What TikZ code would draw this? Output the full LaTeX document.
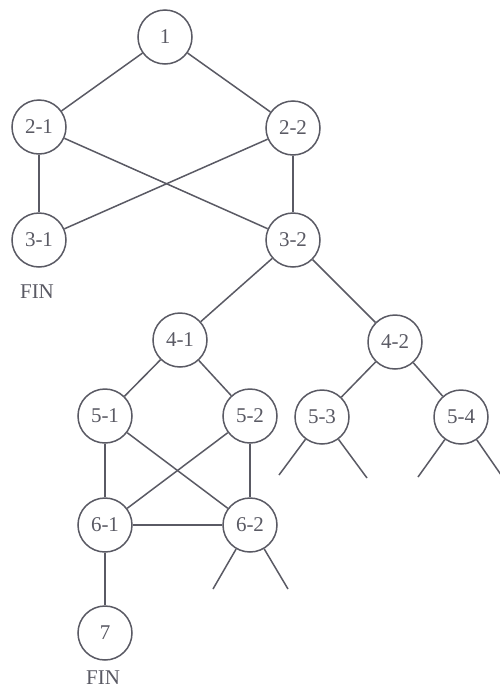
\documentclass[tikz,border=0pt]{standalone}
\usepackage{fontspec}
\setmainfont{Liberation Serif}
\definecolor{ink}{RGB}{90,90,100}
\begin{document}
\begin{tikzpicture}[x=1pt,y=-1pt,
  st/.style={circle,draw=ink,line width=1.5pt,minimum size=54pt,inner sep=0pt,text=ink,font=\fontsize{21}{21}\selectfont},
  lbl/.style={text=ink,font=\fontsize{21}{21}\selectfont,inner sep=1pt},
  edge/.style={draw=ink,line width=1.5pt}]
\useasboundingbox (0,0) rectangle (499,691);
\fill[white] (0,0) rectangle (499,691);
\node[st] (n1) at (165,37) {1};
\node[st] (n21) at (39,127) {2-1};
\node[st] (n22) at (293,128) {2-2};
\node[st] (n31) at (39,240) {3-1};
\node[st] (n32) at (293,240) {3-2};
\node[lbl] (fin1) at (37,292) {FIN};
\node[st] (n41) at (180,340) {4-1};
\node[st] (n42) at (395,342) {4-2};
\node[st] (n51) at (105,416) {5-1};
\node[st] (n52) at (250,416) {5-2};
\node[st] (n53) at (322,417) {5-3};
\node[st] (n54) at (461,417) {5-4};
\node[st] (n61) at (105,525) {6-1};
\node[st] (n62) at (250,525) {6-2};
\node[st] (n7) at (105,633) {7};
\node[lbl] (fin2) at (103,678) {FIN};
\coordinate (a1) at (279,475);
\coordinate (a2) at (367,478);
\coordinate (b1) at (418,477);
\coordinate (b2) at (506,482);
\coordinate (c1) at (213,589);
\coordinate (c2) at (288,589);
\draw[edge] (n1) -- (n21);
\draw[edge] (n1) -- (n22);
\draw[edge] (n21) -- (n31);
\draw[edge] (n21) -- (n32);
\draw[edge] (n22) -- (n31);
\draw[edge] (n22) -- (n32);
\draw[edge] (n32) -- (n41);
\draw[edge] (n32) -- (n42);
\draw[edge] (n41) -- (n51);
\draw[edge] (n41) -- (n52);
\draw[edge] (n42) -- (n53);
\draw[edge] (n42) -- (n54);
\draw[edge] (n51) -- (n61);
\draw[edge] (n51) -- (n62);
\draw[edge] (n52) -- (n61);
\draw[edge] (n52) -- (n62);
\draw[edge] (n61) -- (n62);
\draw[edge] (n61) -- (n7);
\draw[edge] (n53) -- (a1);
\draw[edge] (n53) -- (a2);
\draw[edge] (n54) -- (b1);
\draw[edge] (n54) -- (b2);
\draw[edge] (n62) -- (c1);
\draw[edge] (n62) -- (c2);
\end{tikzpicture}
\end{document}
